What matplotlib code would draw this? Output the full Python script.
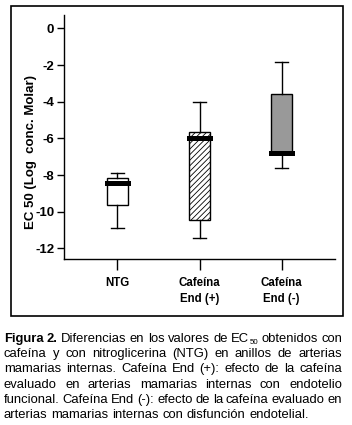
import matplotlib
matplotlib.use('Agg')
import matplotlib.pyplot as plt
from matplotlib.patches import Rectangle

plt.rcParams['font.family'] = ['Liberation Sans', 'DejaVu Sans']

# data
categories = ['NTG', 'Cafeína\nEnd (+)', 'Cafeína\nEnd (-)']
whis_low = [-10.87, -11.45, -7.64]
q1 = [-9.64, -10.45, -6.85]
medians = [-8.45, -6.0, -6.82]
q3 = [-8.18, -5.64, -3.6]
whis_high = [-7.9, -4.0, -1.85]
yticks = [0, -2, -4, -6, -8, -10, -12]

# "EC_50" is written with a subscript, see below
caption = [
    'Figura 2. Diferencias en los valores de EC_50 obtenidos con',
    'cafeína y con nitroglicerina (NTG) en anillos de arterias',
    'mamarias internas. Cafeína End (+): efecto de la cafeína',
    'evaluado en arterias mamarias internas con endotelio',
    'funcional. Cafeína End (-): efecto de la cafeína evaluado en',
    'arterias mamarias internas con disfunción endotelial.',
]

W, H = 352, 425
fig = plt.figure(figsize=(W / 100, H / 100), dpi=100)
ax = fig.add_axes([64 / W, 1 - 259 / H, (335 - 64) / W, (259 - 15) / H])

stats = []
for i in range(len(categories)):
    stats.append(dict(med=medians[i], q1=q1[i], q3=q3[i],
                      whislo=whis_low[i], whishi=whis_high[i], fliers=[]))

plt.rcParams['hatch.linewidth'] = 0.6
bp = ax.bxp(stats, positions=[1, 2, 3], widths=0.26, capwidths=0.16,
            patch_artist=True, showfliers=False,
            boxprops=dict(linewidth=1.0, edgecolor='black'),
            whiskerprops=dict(linewidth=1.0),
            capprops=dict(linewidth=1.0),
            medianprops=dict(color='black', linewidth=3.6, solid_capstyle='projecting'))

fills = ['white', 'white', '#999999']
hatches = [None, '//////', None]
for box, fc, h in zip(bp['boxes'], fills, hatches):
    box.set_facecolor(fc)
    if h:
        box.set_hatch(h)

ax.set_xlim(0.35, 3.65)
ax.set_ylim(-12.58, 0.73)
ax.set_yticks(yticks)
ax.set_yticklabels([str(v) for v in yticks], fontsize=9.5, fontweight='bold')
ax.set_xticks([1, 2, 3])
ax.set_xticklabels(categories, fontsize=8.3, fontweight='bold', linespacing=1.4)
ax.tick_params(axis='y', direction='out', length=5, width=1, pad=2)
ax.tick_params(axis='x', direction='out', length=8, width=1, pad=5)
for s in ['top', 'right']:
    ax.spines[s].set_visible(False)
ax.spines['left'].set_linewidth(1)
ax.spines['bottom'].set_linewidth(1)
ax.set_ylabel('EC 50 (Log  conc. Molar)', fontsize=9.5, fontweight='bold')
ax.yaxis.set_label_coords(-0.1, 0.44)

# outer frame
fig.patches.append(Rectangle((11 / W, 1 - 316 / H), (343 - 11) / W, (316 - 6) / H,
                             transform=fig.transFigure, fill=False,
                             edgecolor='black', linewidth=1.2))

# justified caption, placed word by word
fig.canvas.draw()
r = fig.canvas.get_renderer()
left, right = 4, 342
fs = 9.4
for i, line in enumerate(caption):
    yb = 1 - (341.7 + i * 15.3) / H
    words = line.split(' ')
    parts = []
    for j, w in enumerate(words):
        wt = 'bold' if (i == 0 and j < 2) else 'normal'
        if '_' in w:
            base, sub = w.split('_')
            t1 = fig.text(0, yb, base, fontsize=fs, fontweight=wt, va='baseline')
            t2 = fig.text(0, yb - 2.5 / H, sub, fontsize=fs * 0.6, va='baseline')
            w1 = t1.get_window_extent(r).width
            w2 = t2.get_window_extent(r).width
            parts.append(([(t1, 0), (t2, w1 + 0.5)], w1 + 0.5 + w2))
        else:
            t = fig.text(0, yb, w, fontsize=fs, fontweight=wt, va='baseline')
            parts.append(([(t, 0)], t.get_window_extent(r).width))
    total = sum(p[1] for p in parts)
    if i < len(caption) - 1:
        gap = (right - left - total) / (len(parts) - 1)
    else:
        gap = fs * 0.278 * 100 / 72
    x = left
    for texts, wd in parts:
        for t, off in texts:
            t.set_x((x + off) / W)
        x += wd + gap

fig.savefig('out.png', dpi=100)
